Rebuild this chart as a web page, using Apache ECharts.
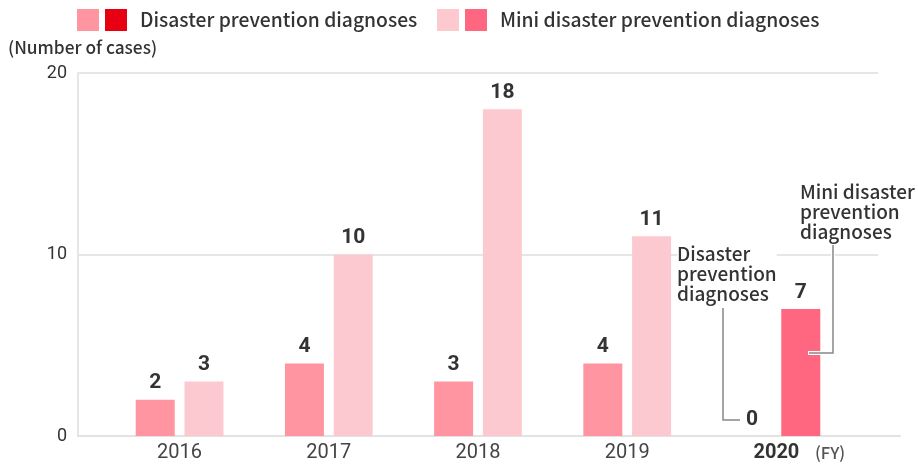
<!DOCTYPE html>
<html>
<head>
<meta charset="utf-8">
<script src="https://cdn.jsdelivr.net/npm/echarts@6/dist/echarts.min.js"></script>
<style>
  html, body { margin: 0; padding: 0; background: #fff; }
  #chart { width: 918px; height: 466px; }
</style>
</head>
<body>
<div id="chart"></div>
<script>
  // data
  var years = ['2016', '2017', '2018', '2019', '2020']
  var disasterDiag = [2, 4, 3, 4, 0]
  var miniDiag = [3, 10, 18, 11, 7]
  var yTicks = [0, 10, 20]

  var TEXT_FONT = '"Noto Sans CJK JP", "Noto Sans", sans-serif'
  var NUM_FONT = 'Roboto, "Noto Sans", sans-serif'
  var C_DIS = '#ff95a1'
  var C_MINI = '#fdc9d1'
  var C_MINI_HL = '#ff6680'
  var C_RED = '#e60012'

  var chart = echarts.init(document.getElementById('chart'))

  var miniData = miniDiag.map(function (v, i) {
    // latest year is highlighted
    return i === years.length - 1 ? { value: v, itemStyle: { color: C_MINI_HL } } : v
  })

  var barLabel = {
    show: true,
    position: 'top',
    distance: 6,
    color: '#333',
    fontSize: 21,
    fontWeight: 'bold',
    fontFamily: NUM_FONT
  }

  function txt(left, top, text, size, color, lh, bg) {
    var st = { text: text, fontSize: size, fontFamily: TEXT_FONT, fontWeight: 500, fill: color, lineHeight: lh || size }
    if (bg) st.backgroundColor = bg
    return { type: 'text', left: left, top: top, z: 5, style: st }
  }

  chart.setOption({
    animation: false,
    grid: [
      { left: 105, right: 67, top: 73, bottom: 30 },  // bars
      { left: 78, right: 40, top: 73, bottom: 30 },   // grid lines
      { left: 78, right: 18, top: 73, bottom: 30 }    // base line
    ],
    xAxis: [
      {
        gridIndex: 0,
        type: 'category',
        data: years,
        axisLine: { show: false },
        axisTick: { show: false },
        axisLabel: {
          margin: 7,
          fontSize: 20,
          color: '#444',
          fontFamily: NUM_FONT,
          formatter: function (v) {
            return v === years[years.length - 1] ? '{b|' + v + '}' : v
          },
          rich: {
            b: { fontSize: 20, fontWeight: 'bold', color: '#333', fontFamily: NUM_FONT }
          }
        }
      },
      { gridIndex: 1, type: 'value', show: false },
      {
        gridIndex: 2,
        type: 'value',
        min: 0,
        max: 1,
        axisLine: { show: true, lineStyle: { color: '#e2e2e2', width: 2 } },
        axisTick: { show: false },
        axisLabel: { show: false },
        splitLine: { show: false }
      }
    ],
    yAxis: [
      { gridIndex: 0, type: 'value', min: yTicks[0], max: yTicks[yTicks.length - 1], show: false },
      {
        gridIndex: 1,
        type: 'value',
        min: yTicks[0],
        max: yTicks[yTicks.length - 1],
        interval: yTicks[1] - yTicks[0],
        axisLine: { show: true, lineStyle: { color: '#e6e6e6', width: 2 } },
        axisTick: { show: false },
        axisLabel: { margin: 11, fontSize: 18, color: '#333', fontFamily: NUM_FONT, padding: [0, 0, 10, 0] },
        splitLine: { lineStyle: { color: '#e6e6e6', width: 2 } }
      },
      { gridIndex: 2, type: 'value', show: false }
    ],
    series: [
      {
        name: 'Disaster prevention diagnoses',
        type: 'bar',
        xAxisIndex: 0,
        yAxisIndex: 0,
        data: disasterDiag,
        barWidth: 39,
        barGap: '25%',
        itemStyle: { color: C_DIS },
        label: barLabel
      },
      {
        name: 'Mini disaster prevention diagnoses',
        type: 'bar',
        xAxisIndex: 0,
        yAxisIndex: 0,
        data: miniData,
        barWidth: 39,
        barGap: '25%',
        itemStyle: { color: C_MINI },
        label: barLabel
      }
    ],
    graphic: [
      // legend
      { type: 'rect', left: 77, top: 9, shape: { width: 22, height: 22 }, style: { fill: C_DIS } },
      { type: 'rect', left: 105, top: 9, shape: { width: 22, height: 22 }, style: { fill: C_RED } },
      txt(140, 9, 'Disaster prevention diagnoses', 19.3, '#333', 22),
      { type: 'rect', left: 437, top: 9, shape: { width: 22, height: 22 }, style: { fill: C_MINI } },
      { type: 'rect', left: 465, top: 9, shape: { width: 22, height: 22 }, style: { fill: C_MINI_HL } },
      txt(500, 9, 'Mini disaster prevention diagnoses', 19.3, '#333', 22),
      // unit
      txt(8, 37, '(Number of cases)', 17.3, '#333', 20),
      txt(815, 443, '(FY)', 16.5, '#555', 20),
      // callouts
      txt(677, 244, 'Disaster\nprevention\ndiagnoses', 19, '#333', 20, '#fff'),
      { type: 'polyline', shape: { points: [[723, 308], [723, 420], [740, 420]] }, style: { stroke: '#888', lineWidth: 1.5, fill: null } },
      txt(800, 182, 'Mini disaster\nprevention\ndiagnoses', 19, '#333', 20),
      { type: 'polyline', z: 10, shape: { points: [[833, 245], [833, 353], [808, 353]] }, style: { stroke: '#fff', lineWidth: 4, fill: null } },
      { type: 'polyline', z: 11, shape: { points: [[833, 245], [833, 353], [809, 353]] }, style: { stroke: '#888', lineWidth: 1.5, fill: null } }
    ]
  })
</script>
</body>
</html>
